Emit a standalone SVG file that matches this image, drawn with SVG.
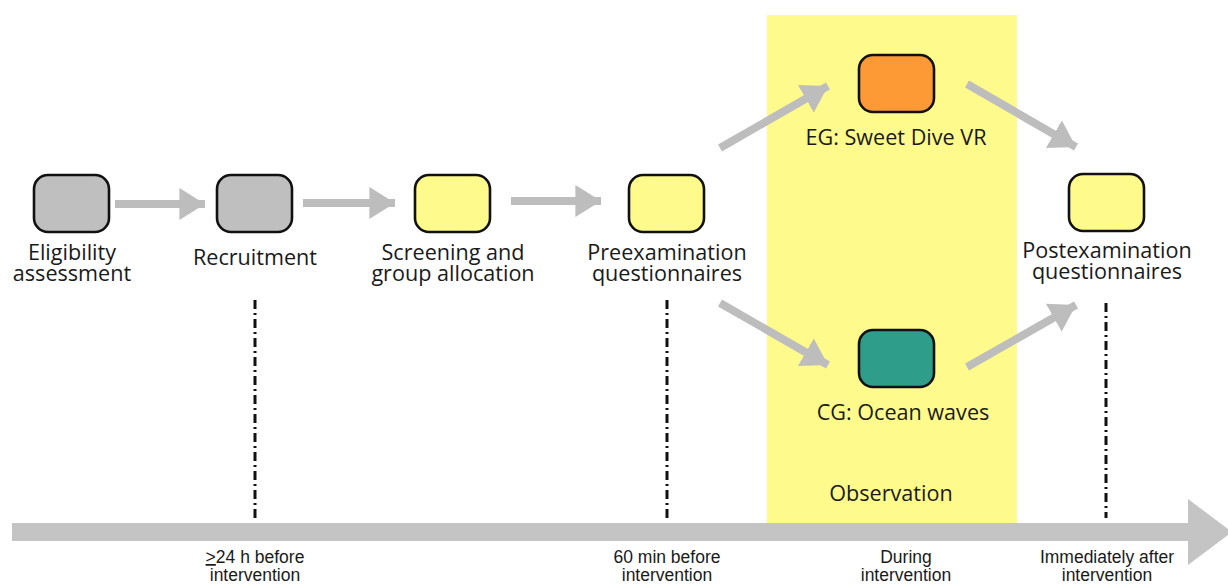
<svg xmlns="http://www.w3.org/2000/svg" width="1228" height="586" viewBox="0 0 1228 586">
<defs>
<marker id="ah" markerWidth="4" markerHeight="4" refX="3.2" refY="2" orient="auto" markerUnits="strokeWidth"><path d="M0,0 L3.2,2 L0,4 Z" fill="#bdbdbd"/></marker>
<style>
.box{stroke:#111;stroke-width:2.6}
.gray{fill:#bfbfbf}.yel{fill:#fffa8c}.org{fill:#fd9a35}.teal{fill:#2e9e8b}
.lbl{font-family:"Open Sans","DejaVu Sans",sans-serif;font-size:21.6px;fill:#1a1a1a;text-anchor:middle}
.tl{font-family:"Liberation Sans",Arial,sans-serif;font-size:17.5px;fill:#1a1a1a;text-anchor:middle}
.conn{stroke:#bdbdbd;stroke-width:8;fill:none;marker-end:url(#ah)}
.dd{stroke:#111;stroke-width:3;stroke-dasharray:9 4 2 4;fill:none}
</style>
</defs>
<rect x="767" y="15" width="250" height="510" fill="#fffa8c"/>
<g id="timeline">
<path d="M12,523 H1188 V499 L1232,532 L1188,565 V541 H12 Z" fill="#c4c4c4"/>
<path class="dd" d="M255,300 V518"/>
<path class="dd" d="M667,300 V518"/>
<path class="dd" d="M1106,303 V518"/>
<text class="tl" x="255" y="563"><tspan text-decoration="underline">&gt;</tspan>24 h before</text>
<text class="tl" x="255" y="581">intervention</text>
<text class="tl" x="667" y="563">60 min before</text>
<text class="tl" x="667" y="581">intervention</text>
<text class="tl" x="906" y="563">During</text>
<text class="tl" x="906" y="581">intervention</text>
<text class="tl" x="1107" y="563">Immediately after</text>
<text class="tl" x="1107" y="581">intervention</text>
<text class="lbl" x="891" y="501">Observation</text>
</g>
<g id="connectors">
<path class="conn" d="M115,204 H205"/>
<path class="conn" d="M303,203 H395"/>
<path class="conn" d="M511,201 H601"/>
<path class="conn" d="M720,148 L828,86"/>
<path class="conn" d="M720,303 L828,365"/>
<path class="conn" d="M967,84 L1076,147"/>
<path class="conn" d="M967,367 L1076,305"/>
</g>
<g id="eligibility"><rect class="box gray" x="34" y="175" width="75" height="57" rx="14"/><text class="lbl" x="72" y="260">Eligibility</text><text class="lbl" x="72" y="281">assessment</text></g>
<g id="recruitment"><rect class="box gray" x="217" y="175" width="75" height="57" rx="14"/><text class="lbl" x="255" y="265">Recruitment</text></g>
<g id="screening"><rect class="box yel" x="415" y="175" width="75" height="57" rx="14"/><text class="lbl" x="453" y="260">Screening and</text><text class="lbl" x="453" y="281">group allocation</text></g>
<g id="preexamination"><rect class="box yel" x="629" y="175" width="75" height="57" rx="14"/><text class="lbl" x="667" y="260">Preexamination</text><text class="lbl" x="667" y="281">questionnaires</text></g>
<g id="eg"><rect class="box org" x="859" y="55" width="75" height="57" rx="14"/><text class="lbl" x="896" y="145">EG: Sweet Dive VR</text></g>
<g id="cg"><rect class="box teal" x="859" y="330" width="75" height="57" rx="14"/><text class="lbl" x="903" y="420">CG: Ocean waves</text></g>
<g id="postexamination"><rect class="box yel" x="1069" y="174" width="75" height="57" rx="14"/><text class="lbl" x="1107" y="258">Postexamination</text><text class="lbl" x="1107" y="279">questionnaires</text></g>
</svg>
